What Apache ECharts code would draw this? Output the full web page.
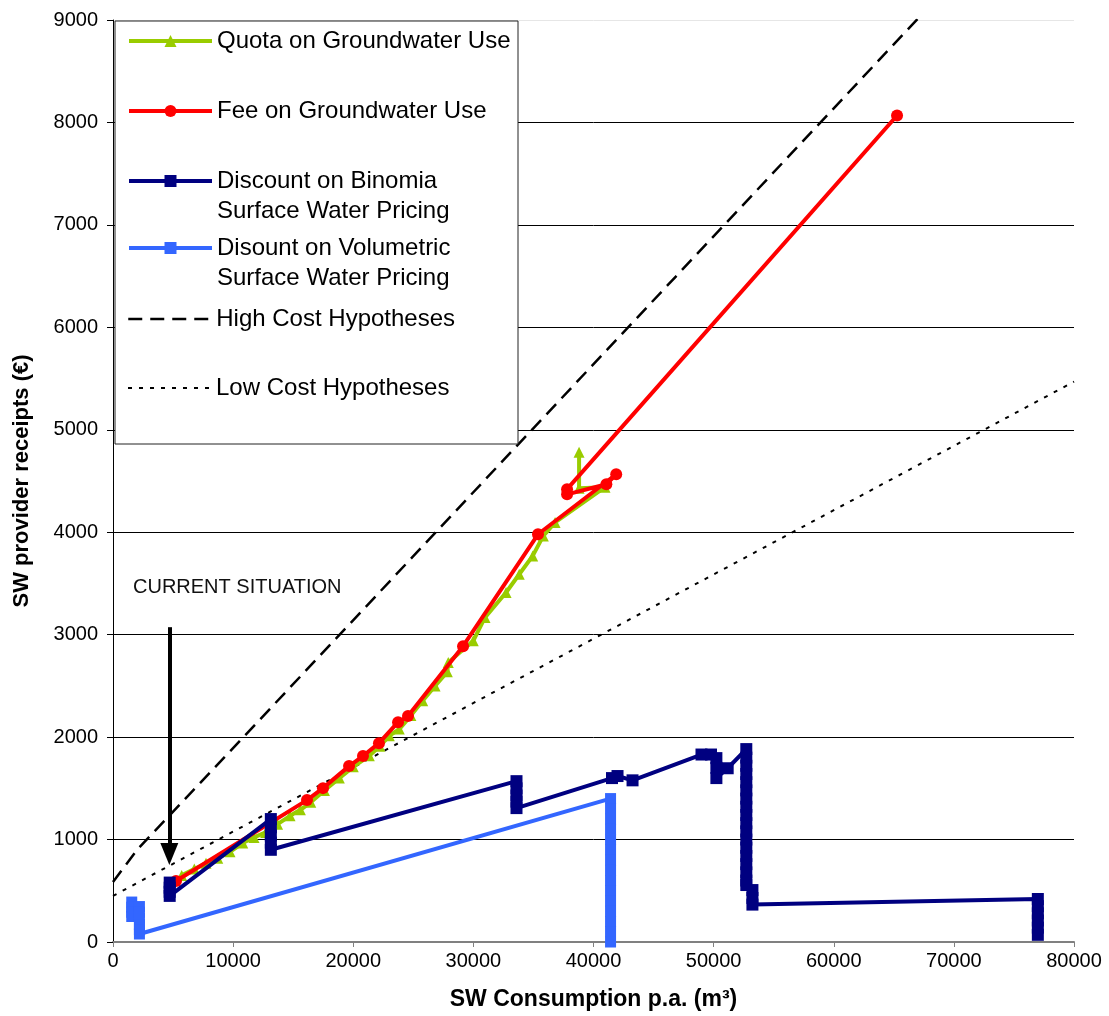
<!DOCTYPE html>
<html>
<head>
<meta charset="utf-8">
<script src="https://cdn.jsdelivr.net/npm/echarts@6/dist/echarts.min.js"></script>
<style>
html,body{margin:0;padding:0;background:#fff;}
#chart{width:1109px;height:1016px;}
</style>
</head>
<body>
<div id="chart"></div>
<script>
// ---- axis ticks ----
const xTicks = [0, 10000, 20000, 30000, 40000, 50000, 60000, 70000, 80000];
const yTicks = [0, 1000, 2000, 3000, 4000, 5000, 6000, 7000, 8000, 9000];

// ---- series names ----
const nameQuota = 'Quota on Groundwater Use';
const nameFee = 'Fee on Groundwater Use';
const nameBin = 'Discount on Binomia\nSurface Water Pricing';
const nameVol = 'Disount on Volumetric\nSurface Water Pricing';
const nameHigh = 'High Cost Hypotheses';
const nameLow = 'Low Cost Hypotheses';

// ---- Quota on Groundwater Use ----
const quotaX = [5720, 6770, 7740, 8720, 9740, 10800, 11740, 12710, 13700, 14740, 15600, 16460, 17600, 18840, 20000, 21340, 22200, 23000, 23830, 24800, 25780, 26810, 27830, 27910, 29990, 30970, 32720, 33820, 34940, 35820, 36800, 40960, 38800, 38800];
const quotaY = [650, 712, 768, 817, 881, 966, 1021, 1070, 1150, 1232, 1290, 1363, 1480, 1600, 1710, 1818, 1910, 2013, 2078, 2210, 2354, 2500, 2637, 2729, 2940, 3168, 3412, 3590, 3769, 3964, 4095, 4440, 4430, 4780];

// ---- Fee on Groundwater Use ----
const feeX = [5245, 16150, 17480, 19650, 20810, 22140, 23730, 24560, 29140, 35380, 41890, 41070, 37800, 37800, 65270];
const feeY = [595, 1385, 1502, 1717, 1815, 1941, 2146, 2205, 2888, 3980, 4566, 4468, 4370, 4420, 8068];

// ---- Discount on Binomia Surface Water Pricing ----
const binX = [4720, 4720, 4720, 4720,
  13140, 13140, 13140, 13140, 13140,
  33590, 33590, 33590, 33590, 33590,
  41540, 42000, 43250,
  48990, 49780, 50230, 50230, 50230, 51170,
  52720, 52720, 52720, 52720, 52720, 52720, 52720, 52720, 52720, 52720, 52720, 52720, 52720, 52720, 52720, 52720, 52720, 52720,
  53230, 53230, 53230,
  76990, 76990, 76990, 76990, 76990, 76990];
const binY = [580, 530, 490, 450,
  1200, 1120, 1040, 970, 900,
  1570, 1500, 1430, 1370, 1307,
  1600, 1620, 1578,
  1830, 1830, 1795, 1700, 1600, 1696,
  1883, 1800, 1720, 1640, 1560, 1480, 1400, 1320, 1240, 1160, 1080, 1000, 920, 840, 760, 680, 600, 556,
  507, 430, 365,
  420, 350, 280, 210, 140, 70];

// ---- Disount on Volumetric Surface Water Pricing ----
const volX = [1560, 1560, 1560, 1560,
  2200, 2200, 2200, 2200, 2200, 2200,
  41420, 41420, 41420, 41420, 41420, 41420, 41420, 41420, 41420, 41420, 41420, 41420, 41420, 41420, 41420];
const volY = [390, 340, 290, 249,
  346, 290, 230, 170, 120, 78,
  1400, 1300, 1200, 1100, 1000, 900, 800, 700, 600, 500, 400, 300, 200, 100, 0];

// ---- cost hypotheses ----
const highX = [0, 2000, 10700, 67300];
const highY = [585, 900, 1980, 9050];
const lowX = [0, 80000];
const lowY = [450, 5470];

// ---- annotation ----
const arrowX = 4690;
const arrowFromY = 3073;
const arrowToY = 858;
const annotationText = 'CURRENT SITUATION';

const pairs = (xs, ys) => xs.map((x, i) => [x, ys[i]]);
const FONT = "'Liberation Sans', Arial, sans-serif";

const chart = echarts.init(document.getElementById('chart'), null, {renderer: 'canvas'});

function legendItem(name, top, lines, noSymbol, lw) {
  const l = {
    data: [name],
    left: 127,
    top: top,
    orient: 'vertical',
    padding: 0,
    itemWidth: 83,
    itemHeight: 15,
    itemGap: 0,
    selectedMode: false,
    z: 10,
    lineStyle: {width: lw},
    formatter: lines === 2 ? (n => '\n' + n) : (n => n),
    textStyle: {fontFamily: FONT, fontSize: 24, color: '#000', lineHeight: 30, padding: [0, 0, 0, 0]}
  };
  if (noSymbol) l.itemStyle = {opacity: 0};
  return l;
}

const gridColors = yTicks.map((v, i) => i === yTicks.length - 1 ? '#e6e6e6' : '#000');

const option = {
  animation: false,
  backgroundColor: '#fff',
  grid: {left: 113, right: 35, top: 20, bottom: 73, containLabel: false},
  xAxis: {
    type: 'value',
    min: xTicks[0],
    max: xTicks[xTicks.length - 1],
    interval: xTicks[1] - xTicks[0],
    name: 'SW Consumption p.a. (m\u00b3)',
    nameLocation: 'middle',
    nameGap: 46,
    nameTextStyle: {fontFamily: FONT, fontSize: 23, fontWeight: 'bold', color: '#000'},
    axisLine: {show: true, lineStyle: {color: '#808080', width: 2}},
    axisTick: {show: true, length: 5, lineStyle: {color: '#808080', width: 1}},
    axisLabel: {fontFamily: FONT, fontSize: 20, color: '#000', margin: 9, formatter: v => String(v)},
    splitLine: {show: false}
  },
  yAxis: {
    type: 'value',
    min: yTicks[0],
    max: yTicks[yTicks.length - 1],
    interval: yTicks[1] - yTicks[0],
    name: 'SW provider receipts (\u20ac)',
    nameLocation: 'middle',
    nameGap: 80,
    nameTextStyle: {fontFamily: FONT, fontSize: 22, fontWeight: 'bold', color: '#000'},
    axisLine: {show: true, lineStyle: {color: '#000', width: 1}},
    axisTick: {show: true, length: 6, lineStyle: {color: '#000', width: 1}},
    axisLabel: {fontFamily: FONT, fontSize: 20, color: '#000', margin: 15, formatter: v => String(v)},
    splitLine: {show: true, lineStyle: {color: gridColors, width: 1}}
  },
  legend: [
    legendItem(nameQuota, 26, 1, false, 4),
    legendItem(nameFee, 96, 1, false, 4),
    legendItem(nameBin, 136, 2, false, 4),
    legendItem(nameVol, 203, 2, false, 4),
    legendItem(nameHigh, 304, 1, true, 2.5),
    legendItem(nameLow, 373, 1, true, 2)
  ],
  graphic: [
    {type: 'rect', z: 8, shape: {x: 115, y: 21, width: 403, height: 423},
     style: {fill: '#fff', stroke: '#222', lineWidth: 1}},
    {type: 'text', z: 8, x: 133, y: 587,
     style: {text: annotationText, font: "20px 'Liberation Sans', Arial, sans-serif", fill: '#111', textVerticalAlign: 'middle'}}
  ],
  series: [
    {
      name: nameHigh, type: 'line', data: pairs(highX, highY), showSymbol: false, symbol: 'none',
      lineStyle: {color: '#000', width: 2.5, type: [14, 8]}, itemStyle: {color: '#000'}, z: 2,
      markLine: {
        silent: true, symbol: ['none', 'triangle'], symbolSize: [18, 22], animation: false,
        label: {show: false},
        lineStyle: {color: '#000', width: 4, type: 'solid'},
        data: [[{coord: [arrowX, arrowFromY]}, {coord: [arrowX, arrowToY]}]]
      }
    },
    {
      name: nameLow, type: 'line', data: pairs(lowX, lowY), showSymbol: false, symbol: 'none',
      lineStyle: {color: '#000', width: 2, type: [4, 7]}, itemStyle: {color: '#000'}, z: 2
    },
    {
      name: nameQuota, type: 'line', data: pairs(quotaX, quotaY), symbol: 'triangle', symbolSize: 11,
      lineStyle: {color: '#99CC00', width: 4}, itemStyle: {color: '#99CC00'}, z: 3
    },
    {
      name: nameFee, type: 'line', data: pairs(feeX, feeY), symbol: 'circle', symbolSize: 12,
      lineStyle: {color: '#FF0000', width: 4}, itemStyle: {color: '#FF0000'}, z: 4
    },
    {
      name: nameBin, type: 'line', data: pairs(binX, binY), symbol: 'rect', symbolSize: 12,
      lineStyle: {color: '#000080', width: 4}, itemStyle: {color: '#000080'}, z: 5
    },
    {
      name: nameVol, type: 'line', data: pairs(volX, volY), symbol: 'rect', symbolSize: 11,
      lineStyle: {color: '#3366FF', width: 4}, itemStyle: {color: '#3366FF'}, z: 6
    }
  ]
};
chart.setOption(option);
</script>
</body>
</html>
